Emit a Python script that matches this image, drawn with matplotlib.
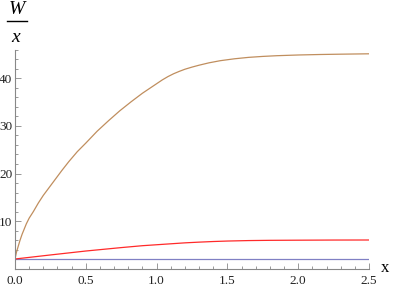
import matplotlib
matplotlib.use("Agg")
import matplotlib.pyplot as plt
from matplotlib.ticker import MultipleLocator

# values
x_brown = [0, 0.01, 0.02, 0.035, 0.05, 0.065, 0.08, 0.1, 0.13, 0.165, 0.2, 0.24, 0.27,
           0.3, 0.33, 0.38, 0.44, 0.5, 0.58, 0.66, 0.74, 0.82, 0.9, 0.96, 1.0, 1.04,
           1.08, 1.12, 1.16, 1.2, 1.25, 1.3, 1.37, 1.45, 1.55, 1.65, 1.75, 1.85, 2.0,
           2.15, 2.3, 2.5]
y_brown = [2.0, 3.4, 4.4, 5.9, 7.2, 8.3, 9.4, 10.6, 12.0, 13.8, 15.4, 17.0, 18.2,
           19.4, 20.6, 22.5, 24.6, 26.4, 28.9, 31.1, 33.2, 35.1, 36.9, 38.1, 38.9, 39.7,
           40.4, 41.0, 41.5, 41.95, 42.4, 42.8, 43.3, 43.75, 44.15, 44.45, 44.65, 44.8,
           44.95, 45.05, 45.12, 45.2]
x_red = [0, 0.25, 0.5, 0.75, 0.9, 1.0, 1.1, 1.2, 1.3, 1.4, 1.5, 1.65, 1.8, 2.0, 2.25, 2.5]
y_red = [2.0, 2.85, 3.68, 4.4, 4.8, 5.0, 5.2, 5.4, 5.55, 5.68, 5.78, 5.88, 5.93, 5.96,
         5.99, 6.0]
x_blue = [0, 2.5]
y_blue = [2.0, 2.0]

plt.rcParams['font.family'] = ['Liberation Serif', 'DejaVu Serif']

fig = plt.figure(figsize=(3.96, 2.88), dpi=100)
ax = fig.add_axes([15 / 396, 1 - 268.5 / 288, (369 - 15) / 396, (268.5 - 50) / 288])

ax.plot(x_blue, y_blue, color='#8080c4', lw=0.9)
ax.plot(x_red, y_red, color='#ff2a2a', lw=0.9)
ax.plot(x_brown, y_brown, color='#c08e5e', lw=0.9)

ax.set_xlim(0, 2.5)
ax.set_ylim(0, 46)
for s in ['top', 'right']:
    ax.spines[s].set_visible(False)
for s in ['left', 'bottom']:
    ax.spines[s].set_color('#888888')
    ax.spines[s].set_linewidth(0.8)

ax.xaxis.set_minor_locator(MultipleLocator(0.1))
ax.yaxis.set_minor_locator(MultipleLocator(2))
ax.set_xticks([0, 0.5, 1.0, 1.5, 2.0, 2.5])
ax.set_xticklabels(['0.0', '0.5', '1.0', '1.5', '2.0', '2.5'])
ax.set_yticks([10, 20, 30, 40])
ax.tick_params(which='both', direction='in', color='#888888', width=0.6,
               labelsize=9.5, labelcolor='#222222')
ax.tick_params(which='major', length=4)
ax.tick_params(which='minor', length=2)
ax.tick_params(axis='y', pad=2)
ax.tick_params(axis='x', pad=5)

# axis labels, Mathematica style
fig.text(17 / 396, 1 - 10 / 288, 'W', fontsize=14, style='italic',
         ha='center', va='center')
fig.add_artist(plt.Line2D([7 / 396, 27 / 396], [1 - 21 / 288, 1 - 21 / 288],
                          color='black', lw=1.0))
fig.text(16 / 396, 1 - 37 / 288, 'x', fontsize=14, style='italic',
         ha='center', va='center')
fig.text(385 / 396, 1 - 268 / 288, 'x', fontsize=12, ha='center', va='center')

fig.savefig('out.png', dpi=100)
